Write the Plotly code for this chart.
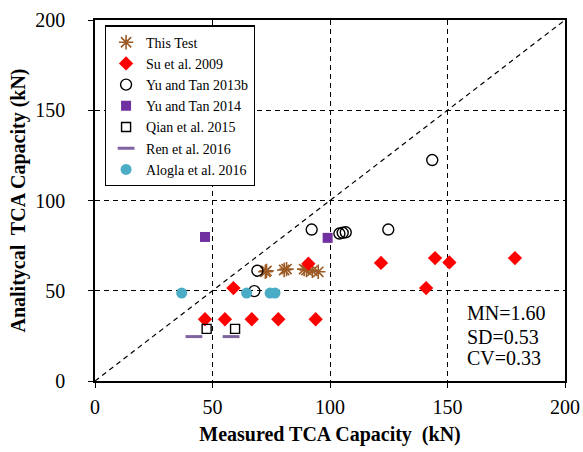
import plotly.graph_objects as go

# ---- data ----
this_test_x = [72.5, 73.0, 80.5, 81.5, 89.0, 90.0, 92.5, 95.0]
this_test_y = [60.5, 61.0, 61.5, 62.0, 62.0, 61.5, 61.0, 60.5]

su_x = [46.8, 55.3, 58.9, 66.7, 78.0, 90.8, 93.9, 121.7, 140.9, 144.7, 150.8, 178.7]
su_y = [34.2, 34.2, 51.5, 34.2, 34.2, 65.0, 34.2, 65.4, 51.5, 68.1, 65.7, 68.1]

yt13_x = [67.8, 69.1, 92.2, 104.0, 105.4, 106.7, 124.8, 143.5]
yt13_y = [49.8, 61.1, 83.9, 81.7, 82.1, 82.4, 83.9, 122.4]

yt14_x = [46.8, 99.0]
yt14_y = [79.8, 79.3]

qian_x = [47.5, 59.6]
qian_y = [28.9, 28.9]

ren_x = [42.1, 57.9]
ren_y = [24.6, 24.6]

alogla_x = [36.9, 64.5, 74.5, 76.6]
alogla_y = [48.7, 48.7, 48.7, 48.7]

diag = [0, 200]
ticks = [0, 50, 100, 150, 200]
stats = ["MN=1.60", "SD=0.53", "CV=0.33"]
stats_y = [37.8, 24.6, 12.8]
stats_x = 157.5

FONT = "Liberation Serif, Times New Roman, serif"

fig = go.Figure()

fig.add_trace(go.Scatter(x=diag, y=diag, mode="lines", showlegend=False,
                         line=dict(color="black", width=1.2, dash="5px,4px"),
                         hoverinfo="skip"))

fig.add_trace(go.Scatter(x=this_test_x, y=this_test_y, mode="markers", name="This Test",
                         marker=dict(symbol="asterisk-open", size=12, color="#9C5A24",
                                     line=dict(color="#9C5A24", width=1.6))))
fig.add_trace(go.Scatter(x=su_x, y=su_y, mode="markers", name="Su et al. 2009",
                         marker=dict(symbol="diamond", size=11, color="#FF0000",
                                     line=dict(width=0))))
fig.add_trace(go.Scatter(x=yt13_x, y=yt13_y, mode="markers", name="Yu and Tan 2013b",
                         marker=dict(symbol="circle-open", size=11, color="black",
                                     line=dict(color="black", width=1.4))))
fig.add_trace(go.Scatter(x=yt14_x, y=yt14_y, mode="markers", name="Yu and Tan 2014",
                         marker=dict(symbol="square", size=10, color="#7030A0",
                                     line=dict(width=0))))
fig.add_trace(go.Scatter(x=qian_x, y=qian_y, mode="markers", name="Qian et al. 2015",
                         marker=dict(symbol="square-open", size=9, color="black",
                                     line=dict(color="black", width=1.4))))
fig.add_trace(go.Scatter(x=ren_x, y=ren_y, mode="markers", name="Ren et al. 2016",
                         marker=dict(symbol="line-ew-open", size=12, color="#8064A2",
                                     line=dict(color="#8064A2", width=3))))
fig.add_trace(go.Scatter(x=alogla_x, y=alogla_y, mode="markers", name="Alogla et al. 2016",
                         marker=dict(symbol="circle", size=11, color="#4BACC6",
                                     line=dict(width=0))))

for s, yy in zip(stats, stats_y):
    fig.add_annotation(x=stats_x, y=yy, text=s, showarrow=False, xanchor="left",
                       yanchor="middle", font=dict(family=FONT, size=20, color="black"))

axis_common = dict(range=[0, 200], tickvals=ticks, showline=True, linecolor="black",
                   linewidth=1.5, mirror=True, showgrid=True, gridcolor="black",
                   gridwidth=1, griddash="5px,4px", zeroline=False, ticks="outside",
                   ticklen=5, tickcolor="black", automargin=False,
                   tickfont=dict(family=FONT, size=20, color="black"))

fig.update_xaxes(**axis_common, ticklabelstandoff=2,
                 title=dict(text="<b>Measured TCA Capacity  (kN)</b>",
                            font=dict(family=FONT, size=20, color="black"), standoff=10))
fig.update_yaxes(**axis_common, ticklabelstandoff=19,
                 title=dict(text="<b>Analitycal  TCA Capacity (kN)</b>",
                            font=dict(family=FONT, size=20, color="black"), standoff=4))

fig.update_layout(
    width=583, height=452,
    margin=dict(l=95, r=18, t=20, b=71),
    plot_bgcolor="white", paper_bgcolor="white",
    showlegend=True,
    legend=dict(x=0.021, y=0.985, xanchor="left", yanchor="top",
                bgcolor="white", bordercolor="black", borderwidth=1.2,
                font=dict(family=FONT, size=14, color="black"),
                itemwidth=30, tracegroupgap=0),
)

fig.write_html("out.html", config={"displayModeBar": False},
               post_script="document.body.style.margin='0';")
